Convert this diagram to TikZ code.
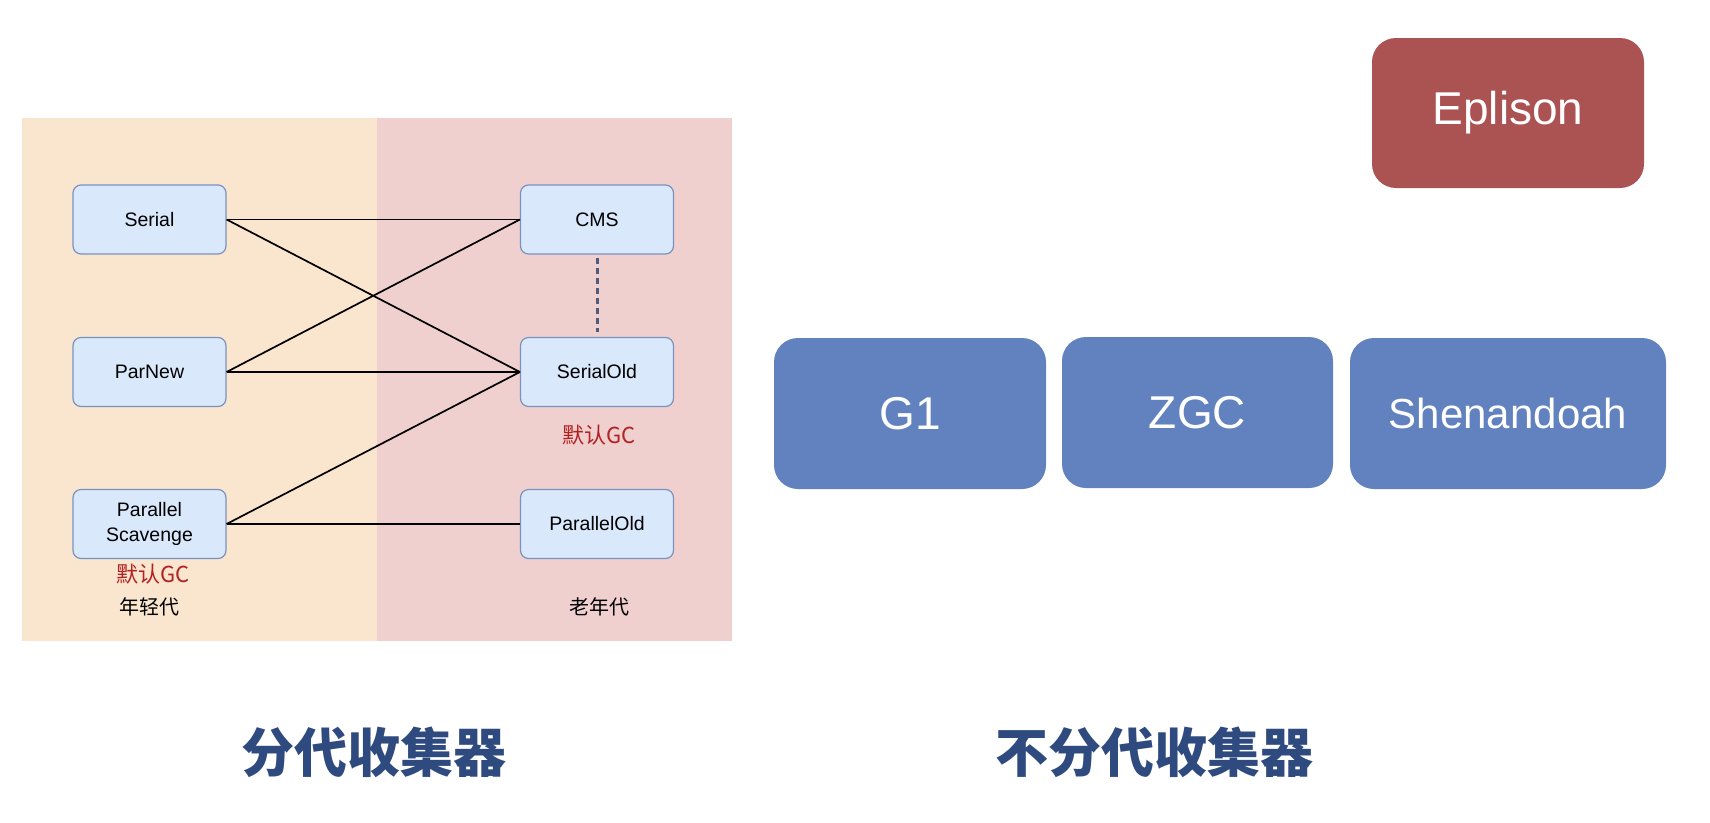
\documentclass[tikz,border=0pt]{standalone}
\usepackage{fontspec}
\setmainfont{Liberation Sans}
\newfontfamily\cjk{Noto Sans CJK SC}
\definecolor{youngbg}{HTML}{FAE6CE}
\definecolor{oldbg}{HTML}{F0CFCF}
\definecolor{nodefill}{HTML}{DAE8FC}
\definecolor{nodedraw}{HTML}{7A92C0}
\definecolor{epsred}{HTML}{AB5252}
\definecolor{gcblue}{HTML}{6182BF}
\definecolor{titleblue}{HTML}{2E4A7E}
\definecolor{gcred}{HTML}{B22222}
\definecolor{dotcol}{HTML}{505A7A}
\begin{document}
\begin{tikzpicture}[x=1pt,y=-1pt,
  gen/.style={draw=nodedraw, fill=nodefill, rounded corners=8pt, minimum width=153pt, minimum height=69pt, inner sep=0pt, font=\fontsize{19.5}{25}\selectfont, align=center, line width=1.2pt},
  bigbox/.style={text=white, rounded corners=24pt, minimum height=151pt, inner sep=0pt, font=\fontsize{46}{55}\selectfont},
  conn/.style={draw=black, line width=1.7pt},
  dotconn/.style={draw=dotcol, line width=3pt, dash pattern=on 6pt off 4pt},
  redlabel/.style={text=gcred, font=\cjk\fontsize{22}{26}\selectfont, inner sep=0pt},
  genlabel/.style={text=black, font=\cjk\fontsize{20}{24}\selectfont, inner sep=0pt},
  title/.style={text=titleblue, font=\cjk\bfseries\fontsize{53}{60}\selectfont, inner sep=0pt}
]
\useasboundingbox[fill=white] (0,0) rectangle (1710,822);
\fill[youngbg] (22,118) rectangle (377,641);
\fill[oldbg] (377,118) rectangle (732,641);

\node[gen] (serial) at (149.5,219.5) {Serial};
\node[gen] (parnew) at (149.5,372) {ParNew};
\node[gen] (ps) at (149.5,524) {Parallel\\Scavenge};
\node[gen] (cms) at (597,219.5) {CMS};
\node[gen] (serialold) at (597,372) {SerialOld};
\node[gen] (parallelold) at (597,524) {ParallelOld};

\draw[conn] (serial.east) -- (cms.west);
\draw[conn] (serial.east) -- (serialold.west);
\draw[conn] (parnew.east) -- (cms.west);
\draw[conn] (parnew.east) -- (serialold.west);
\draw[conn] (ps.east) -- (serialold.west);
\draw[conn] (ps.east) -- (parallelold.west);
\draw[dotconn, shorten <=3pt, shorten >=5pt] (cms.south) -- (serialold.north);

\node[redlabel] (def1) at (599,435) {默认GC};
\node[redlabel] (def2) at (153,574) {默认GC};
\node[genlabel] (young) at (149,607) {年轻代};
\node[genlabel] (old) at (599,607) {老年代};

\node[bigbox, fill=epsred, minimum width=272pt, minimum height=150pt] (eps) at (1508,113) {Eplison};
\node[bigbox, fill=gcblue, minimum width=272pt] (g1) at (910,413.5) {G1};
\node[bigbox, fill=gcblue, minimum width=271pt] (zgc) at (1197.5,412.5) {ZGC};
\node[bigbox, fill=gcblue, minimum width=316pt, font=\fontsize{42}{50}\selectfont] (shen) at (1508,413.5) {Shenandoah};

\node[title] (t1) at (374,752) {分代收集器};
\node[title] (t2) at (1154,752) {不分代收集器};
\end{tikzpicture}
\end{document}
